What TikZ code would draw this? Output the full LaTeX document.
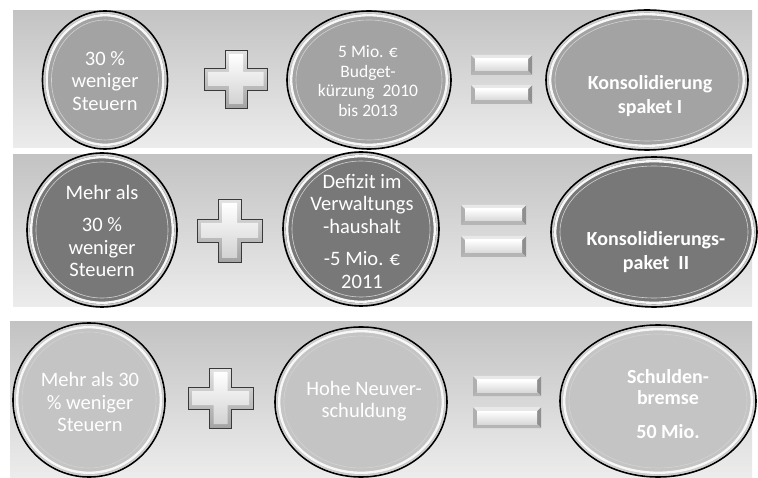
\documentclass[tikz,border=0pt]{standalone}
\usepackage{fontspec}
\setmainfont{Carlito}
\usetikzlibrary{shapes.geometric}
\definecolor{coinA}{gray}{0.64}
\definecolor{coinB}{gray}{0.47}
\definecolor{coinC}{gray}{0.77}
\tikzset{
  panel/.style={top color=gray!47, bottom color=gray!15},
  coin/.style={ellipse, draw=black, line width=1.6pt, inner sep=0pt},
  rimdark/.style={line width=1.6pt, draw=gray!40},
  rimlight/.style={line width=2.4pt, draw=gray!6},
  innerrim/.style={line width=0.6pt, draw=white!65!gray},
  cointext/.style={align=center, text=white, inner sep=0pt, font=\fontsize{20.5}{22.5}\selectfont},
  smalltext/.style={cointext, font=\fontsize{17.5}{19.5}\selectfont},
  boldtext/.style={cointext, font=\bfseries\fontsize{20}{24}\selectfont},
  plusouter/.style={top color=gray!22, bottom color=gray!72, draw=gray!45!black, line width=0.5pt},
  plusinner/.style={top color=white, bottom color=gray!35},
}
% coin: name, x, y, rx, ry, fill colour
\newcommand\coin[6]{%
  \node[coin, fill=#6, minimum width=2*#4pt, minimum height=2*#5pt] (#1) at (#2,#3) {};
  \draw[rimdark] (#1.center) ellipse [x radius=#4pt-1.9pt, y radius=#5pt-1.9pt];
  \draw[rimlight] (#1.center) ellipse [x radius=#4pt-4.2pt, y radius=#5pt-4.2pt];
  \draw[innerrim] (#1.center) ellipse [x radius=#4pt-9pt, y radius=#5pt-9pt];
}
% plus: cx, cy, half width, half height, half arm thickness
\newcommand\plussign[5]{%
  \shade[plusouter] (#1-#5,#2-#4) -- (#1+#5,#2-#4) -- (#1+#5,#2-#5) -- (#1+#3,#2-#5)
    -- (#1+#3,#2+#5) -- (#1+#5,#2+#5) -- (#1+#5,#2+#4) -- (#1-#5,#2+#4)
    -- (#1-#5,#2+#5) -- (#1-#3,#2+#5) -- (#1-#3,#2-#5) -- (#1-#5,#2-#5) -- cycle;
  \shade[plusinner] (#1-#5+4,#2-#4+4) -- (#1+#5-4,#2-#4+4) -- (#1+#5-4,#2-#5+4) -- (#1+#3-4,#2-#5+4)
    -- (#1+#3-4,#2+#5-4) -- (#1+#5-4,#2+#5-4) -- (#1+#5-4,#2+#4-4) -- (#1-#5+4,#2+#4-4)
    -- (#1-#5+4,#2+#5-4) -- (#1-#3+4,#2+#5-4) -- (#1-#3+4,#2-#5+4) -- (#1-#5+4,#2-#5+4) -- cycle;
}
% bevelled bar: x1, y1, x2, y2
\newcommand\bevelbar[4]{%
  \fill[gray!40] (#1,#2) rectangle (#3,#4);
  \fill[gray!62] (#1,#2) -- (#1+4,#2+4) -- (#1+4,#4-4) -- (#1,#4) -- cycle;
  \fill[gray!88] (#3,#2) -- (#3-4,#2+4) -- (#3-4,#4-4) -- (#3,#4) -- cycle;
  \fill[gray!18] (#1,#2) -- (#3,#2) -- (#3-4,#2+4) -- (#1+4,#2+4) -- cycle;
  \fill[gray!58] (#1,#4) -- (#3,#4) -- (#3-4,#4-4) -- (#1+4,#4-4) -- cycle;
  \shade[top color=white, bottom color=gray!30] (#1+4,#2+4) rectangle (#3-4,#4-4);
}
\begin{document}
\begin{tikzpicture}[x=1pt,y=-1pt]
\useasboundingbox (0,0) rectangle (758,478);
\fill[white] (0,0) rectangle (758,478);
% panels
\shade[panel] (13,11) rectangle (752,148);
\shade[panel] (13,155) rectangle (752,307);
\shade[panel] (10,322) rectangle (752,477);

% row 1
\coin{p1a}{105}{80}{62.5}{69}{coinA}
\coin{p1b}{369}{80}{82}{69}{coinA}
\coin{p1c}{647}{80}{101}{70}{coinA}
\node[cointext] (p1at) at (105,81) {30 \%\\weniger\\Steuern};
\node[smalltext] (p1bt) at (368,81) {5 Mio. €\\Budget-\\kürzung\ \ 2010\\bis 2013};
\node[boldtext] (p1ct) at (650,96) {Konsolidierung\\spaket I};
\plussign{236}{79}{31.5}{29}{11}
\bevelbar{471}{55}{532}{75}
\bevelbar{471}{85}{532}{104}

% row 2
\coin{p2a}{102}{230}{75}{77}{coinB}
\coin{p2b}{361}{229}{78}{77}{coinB}
\coin{p2c}{654}{232}{103}{75}{coinB}
\node[cointext] (p2at) at (102,231) {Mehr als\\[10pt]30 \%\\weniger\\Steuern};
\node[cointext] (p2bt) at (362,231) {Defizit im\\Verwaltungs\\-haushalt\\[10pt]-5 Mio. €\\2011};
\node[boldtext] (p2ct) at (656,252) {Konsolidierungs-\\paket\ \ II};
\plussign{229.5}{230.5}{32.5}{31.5}{11.5}
\bevelbar{461}{205}{526}{225}
\bevelbar{461}{236}{526}{257}

% row 3
\coin{p3a}{89}{400}{76}{77}{coinC}
\coin{p3b}{361}{402}{86}{75}{coinC}
\coin{p3c}{658}{401}{98}{76}{coinC}
\node[cointext] (p3at) at (90,402) {Mehr als 30\\\% weniger\\Steuern};
\node[cointext] (p3bt) at (364,401) {Hohe Neuver-\\schuldung};
\node[boldtext, font=\bfseries\fontsize{20}{21}\selectfont] (p3ct) at (668,404) {Schulden-\\bremse\\[13pt]50 Mio.};
\plussign{220.5}{398}{32.5}{30}{11}
\bevelbar{473}{376}{541}{396}
\bevelbar{473}{407}{541}{428}
\end{tikzpicture}
\end{document}
